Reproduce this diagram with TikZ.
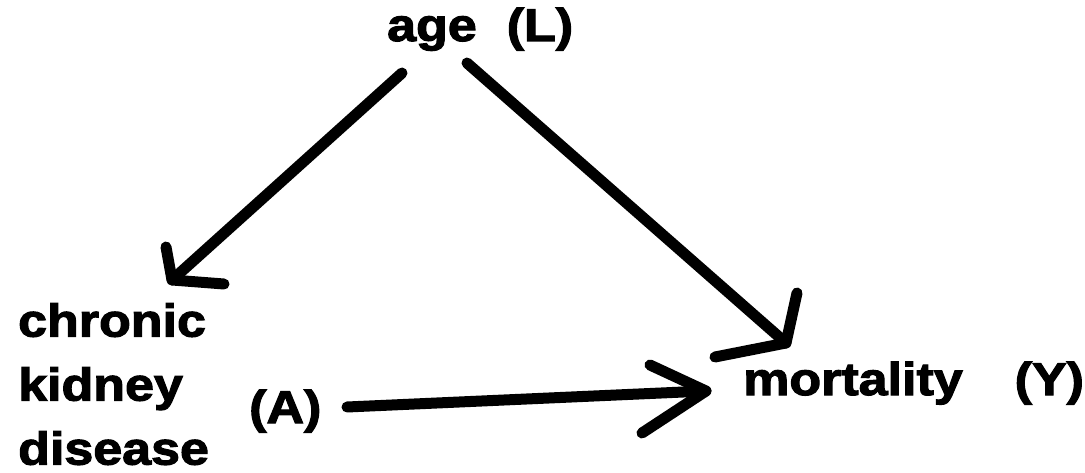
\documentclass[tikz,border=0pt]{standalone}
\usepackage{fontspec}
\newfontfamily\hand{Liberation Sans}[FakeStretch=1.13,BoldFeatures={FakeBold=2.5}]
\begin{document}
\begin{tikzpicture}[x=1pt,y=-1pt,
  lbl/.style={inner sep=0pt,font=\hand\bfseries\fontsize{46}{64}\selectfont},
  stroke/.style={line width=11pt,line cap=round,line join=round}]
\useasboundingbox[fill=white] (0,0) rectangle (1085,473);
% nodes
\node[lbl,anchor=base west] (age) at (387,41) {age\hspace{30pt}(L)};
\node[lbl,anchor=north west,align=left] (ckd) at (18,303) {chronic\\kidney\\disease};
\node[lbl,anchor=base west] (A) at (249,423) {(A)};
\node[lbl,anchor=base west] (Y) at (743,395) {mortality\hspace{52pt}(Y)};
% connector end points
\coordinate (s1) at (402,73);
\coordinate (t1) at (172,280);
\coordinate (b1a) at (166,247);
\coordinate (b1b) at (224,284);
\coordinate (s2) at (467,63);
\coordinate (t2) at (786,343);
\coordinate (b2a) at (797,293);
\coordinate (b2b) at (715,357);
\coordinate (s3) at (347,407);
\coordinate (t3) at (706,391);
\coordinate (b3a) at (650,365);
\coordinate (b3b) at (642,433);
% age -> chronic kidney disease
\draw[stroke] (s1) -- (t1);
\draw[stroke] (b1a) -- (t1) -- (b1b);
% age -> mortality
\draw[stroke] (s2) -- (t2);
\draw[stroke] (b2a) -- (t2) -- (b2b);
% (A) -> mortality
\draw[stroke] (s3) -- (t3);
\draw[stroke] (b3a) -- (t3) -- (b3b);
\end{tikzpicture}
\end{document}
